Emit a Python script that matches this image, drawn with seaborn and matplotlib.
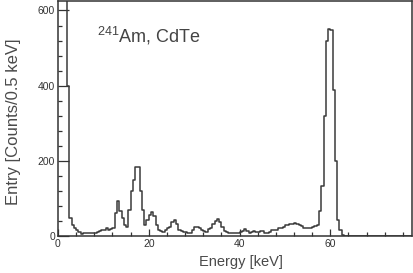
import matplotlib
matplotlib.use("Agg")
import matplotlib.pyplot as plt
import numpy as np
import pandas as pd
import seaborn as sns
from matplotlib.ticker import MultipleLocator

# ------------------------------------------------------------------------
#  Data: 241Am spectrum, CdTe detector, 0.5 keV bins starting at 0 keV
# ------------------------------------------------------------------------
BIN_WIDTH = 0.5
E_MIN, E_MAX = 0.0, 78.0

counts_0_20 = [1400, 1400, 1400, 1400, 400, 48, 29, 22, 15, 10,
               6, 8, 9, 8, 9, 7, 8, 10, 13, 15,
               17, 20, 16, 18, 20, 62, 92, 66, 48, 30,
               25, 68, 121, 150, 184, 183, 121, 68, 30, 42]
counts_20_40 = [56, 65, 52, 30, 17, 12, 11, 16, 20, 25,
                38, 42, 31, 17, 12, 10, 11, 7, 8, 16,
                24, 25, 22, 16, 12, 10, 19, 21, 33, 40,
                46, 38, 24, 14, 10, 9, 8, 9, 7, 9]
counts_40_60 = [11, 14, 18, 12, 9, 10, 12, 10, 11, 13,
                12, 9, 8, 11, 15, 16, 17, 20, 22, 24,
                28, 30, 32, 33, 34, 32, 30, 26, 22, 20,
                21, 20, 24, 27, 30, 67, 134, 318, 518, 550]
counts_60_78 = [548, 389, 200, 42, 16, 2, 0, 0, 0, 0,
                0, 0, 0, 0, 0, 0, 0, 0, 0, 0,
                0, 0, 0, 0, 0, 0, 0, 0, 0, 0,
                0, 0, 0, 0, 0, 0]

counts = counts_0_20 + counts_20_40 + counts_40_60 + counts_60_78

label_text = r"$^{241}$Am, CdTe"
x_label = "Energy [keV]"
y_label = "Entry [Counts/0.5 keV]"

# ------------------------------------------------------------------------
#  Plot
# ------------------------------------------------------------------------
centers = np.arange(len(counts)) * BIN_WIDTH + E_MIN + BIN_WIDTH / 2
df = pd.DataFrame({"energy": centers, "counts": counts})

sns.set_style("ticks")
plt.rcParams["font.family"] = ["Liberation Sans", "DejaVu Sans"]
plt.rcParams["mathtext.default"] = "regular"

fig = plt.figure(figsize=(4.13, 2.73), dpi=100)
ax = fig.add_axes([0.1404, 0.1355, 0.8572, 0.8605])

sns.histplot(data=df, x="energy", weights="counts", binwidth=BIN_WIDTH,
             binrange=(E_MIN, E_MIN + len(counts) * BIN_WIDTH),
             element="step", fill=False, color="#3a3a3a", linewidth=1.1, ax=ax)

ax.set_xlim(E_MIN, E_MAX)
ax.set_ylim(0, 625)
ax.xaxis.set_major_locator(MultipleLocator(20))
ax.xaxis.set_minor_locator(MultipleLocator(4))
ax.yaxis.set_major_locator(MultipleLocator(200))
ax.yaxis.set_minor_locator(MultipleLocator(40))
ax.tick_params(axis="both", which="both", direction="in", colors="#333333",
               labelsize=7.5, width=0.9, pad=2)
ax.tick_params(axis="y", which="major", length=8)
ax.tick_params(axis="x", which="major", length=5)
ax.tick_params(axis="both", which="minor", length=3)

for spine in ax.spines.values():
    spine.set_visible(True)
    spine.set_color("#333333")
    spine.set_linewidth(1.1)

ax.set_xlabel(x_label, fontsize=10.5, color="#4a4a4a", va="center")
ax.set_ylabel(y_label, fontsize=12, color="#4a4a4a", va="center")
ax.xaxis.set_label_coords(0.517, -0.11)
ax.yaxis.set_label_coords(-0.127, 0.485)
ax.text(0.11, 0.85, label_text, transform=ax.transAxes, fontsize=13,
        color="#444444", va="center", ha="left")

fig.savefig("out.png", dpi=100)
plt.close(fig)
